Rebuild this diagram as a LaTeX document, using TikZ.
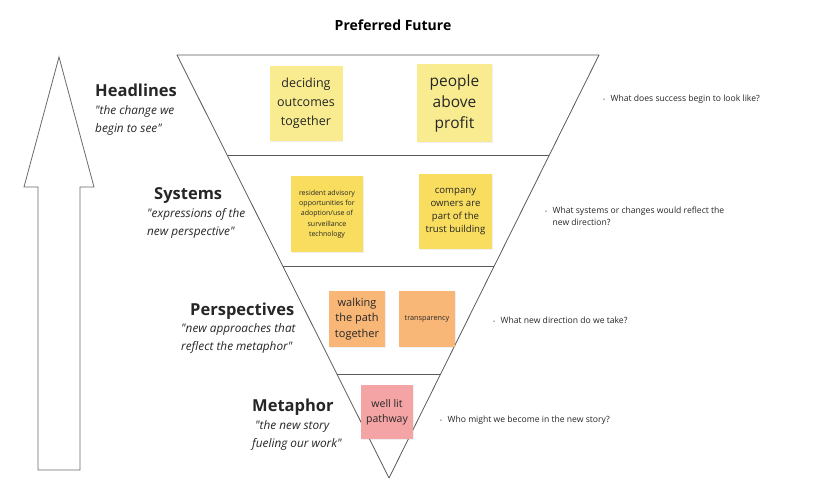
\documentclass[tikz,border=0pt]{standalone}
\usepackage{fontspec}
\setmainfont{Open Sans}
\usetikzlibrary{calc, shadows}
\definecolor{lineGray}{HTML}{5A5A5A}
\definecolor{inkGray}{HTML}{262626}
\definecolor{paleYellow}{HTML}{F9EC90}
\definecolor{deepYellow}{HTML}{F8DD5E}
\definecolor{softOrange}{HTML}{F8B677}
\definecolor{softPink}{HTML}{F5A4A6}
\tikzstyle{funnel} = [draw=lineGray, line width=0.8pt, line join=round]
\tikzstyle{outline} = [draw=lineGray!90, line width=0.8pt]
\tikzstyle{heading} = [inner sep=0pt, text=black, font=\bfseries\fontsize{14}{16}\selectfont]
\tikzstyle{stagename} = [inner sep=0pt, anchor=base west, text=inkGray, font=\bfseries\fontsize{16.5}{20}\selectfont]
\tikzstyle{stagequote} = [inner sep=0pt, anchor=north west, align=left, text=inkGray, font=\itshape\fontsize{11.8}{18.5}\selectfont]
\tikzstyle{sticky} = [rectangle, inner sep=1pt, align=center, text=inkGray, drop shadow={shadow xshift=0.8pt, shadow yshift=-1.2pt, opacity=0.12}]
\tikzstyle{question} = [inner sep=0pt, anchor=west, align=left, text=inkGray, font=\fontsize{8.6}{12}\selectfont]
\newcommand{\qdot}{{\fontsize{5}{5}\selectfont\textbullet}\hspace{5.5pt}}
\newcommand{\qq}{\textquotedbl}

\begin{document}
\begin{tikzpicture}[x=1pt, y=-1pt]
\useasboundingbox[fill=white] (0,0) rectangle (830,487);

% rising arrow on the left
\draw[outline] (59,57) -- (94,187) -- (80,187) -- (80,470) -- (38,470) -- (38,187) -- (24,187) -- cycle;

\node (pf) [heading] at (393,25) {Preferred Future};

% the funnel and its levels
\coordinate (ta) at (177,55);
\coordinate (tb) at (599,55);
\coordinate (tc) at (389,478);
\draw[funnel] (ta) -- (tb) -- (tc) -- cycle;
\foreach \t in {0.2364, 0.4988, 0.7541}
    \draw[funnel] ($(ta)!\t!(tc)$) -- ($(tb)!\t!(tc)$);

% level names
\node (hdl) [stagename] at (95,96) {Headlines};
\node (hdlq) [stagequote] at (95,105) {\qq the change we\\begin to see\qq};
\node (sys) [stagename] at (154,199) {Systems};
\node (sysq) [stagequote] at (147,208) {\qq expressions of the\\new perspective\qq};
\node (per) [stagename] at (190,315) {Perspectives};
\node (perq) [stagequote] at (181,323) {\qq new approaches that\\reflect the metaphor\qq};
\node (met) [stagename] at (252,411) {Metaphor};
\node (metq) [stagequote] at (252,420) {\hspace{3pt}\qq the new story\\fueling our work\qq};

% sticky notes
\node (deciding) [sticky, fill=paleYellow, minimum width=73pt, minimum height=75pt, font=\fontsize{12.5}{19}\selectfont] at (306,103.5) {deciding\\outcomes\\together};
\node (people) [sticky, fill=paleYellow, minimum width=75pt, minimum height=78pt, font=\fontsize{15.5}{21}\selectfont] at (454.5,103) {people\\above\\profit};
\node (resident) [sticky, fill=deepYellow, minimum width=72pt, minimum height=76pt, font=\fontsize{7}{10.2}\selectfont] at (327,214) {resident advisory\\opportunities for\\adoption/use of\\surveillance\\technology};
\node (company) [sticky, fill=deepYellow, minimum width=73pt, minimum height=75pt, font=\fontsize{9.6}{13}\selectfont] at (455.5,211.5) {company\\owners are\\part of the\\trust building};
\node (walking) [sticky, fill=softOrange, minimum width=56pt, minimum height=56pt, font=\fontsize{11}{15.5}\selectfont] at (357,319) {walking\\the path\\together};
\node (transp) [sticky, fill=softOrange, minimum width=56pt, minimum height=56pt, font=\fontsize{7.3}{9}\selectfont] at (427,319) {transparency};
\node (welllit) [sticky, fill=softPink, minimum width=52pt, minimum height=54pt, font=\fontsize{10.5}{15}\selectfont] at (387,412) {well lit\\pathway};

% guiding questions
\node (q1) [question] at (603,99) {\qdot What does success begin to look like?};
\node (q2) [question] at (545,216) {\qdot What systems or changes would reflect the\\\phantom{\qdot}new direction?};
\node (q3) [question] at (493,320) {\qdot What new direction do we take?};
\node (q4) [question] at (440,420) {\qdot Who might we become in the new story?};
\end{tikzpicture}
\end{document}
